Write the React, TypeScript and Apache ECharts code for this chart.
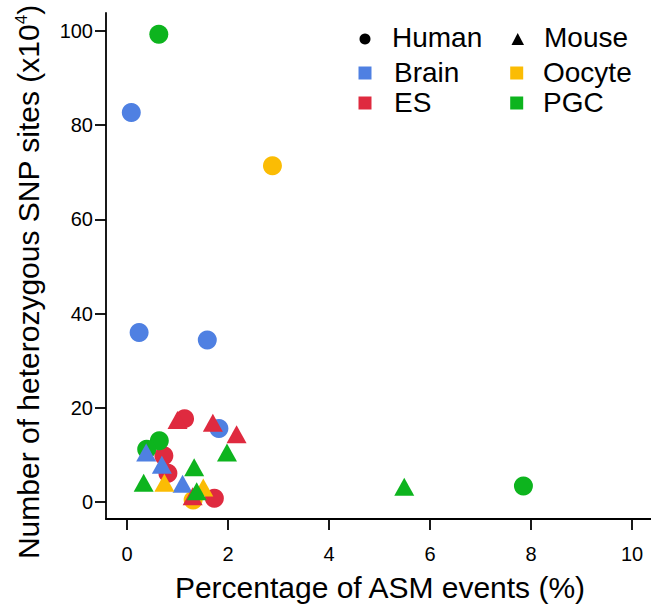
import React, { useEffect, useRef } from "react";
import * as echarts from "echarts";

// [x = % ASM events, y = heterozygous SNP sites (x10^4)]
const humanBrain = [[0.085, 82.7], [0.24, 36.0], [1.59, 34.4], [1.82, 15.6]];
const humanES = [[1.14, 17.7], [0.73, 9.8], [0.81, 6.1], [1.73, 0.8]];
const humanOocyte = [[2.88, 71.4], [1.31, 0.4]];
const humanPGC = [[0.63, 99.3], [0.64, 13.0], [0.39, 11.2], [7.85, 3.4]];
const mouseBrain = [[0.38, 10.5], [0.69, 7.9], [1.10, 3.9]];
const mouseES = [[1.00, 17.4], [1.70, 16.8], [2.17, 14.4], [1.30, 1.2]];
const mouseOocyte = [[0.74, 4.1], [1.51, 3.1]];
const mousePGC = [[1.98, 10.5], [1.33, 7.4], [0.33, 4.1], [1.38, 2.3], [5.49, 3.25]];

const xTicks = [0, 2, 4, 6, 8, 10];
const yTicks = [0, 20, 40, 60, 80, 100];

const COLORS = {
  Brain: "#4F80E2",
  ES: "#DF2A3F",
  Oocyte: "#FBBC04",
  PGC: "#0DB41E",
};

const FONT = "Liberation Sans, Arial, Helvetica, sans-serif";

export default function App() {
  const ref = useRef<HTMLDivElement>(null);
  useEffect(() => {
    if (!ref.current) return;
    const chart = echarts.init(ref.current, null, { renderer: "svg" });
    const circ = (name: string, data: number[][], color: string) => ({
      type: "scatter",
      name,
      data,
      symbol: "circle",
      symbolSize: 19,
      itemStyle: { color, opacity: 1 },
      z: 2,
    });
    const tri = (name: string, data: number[][], color: string) => ({
      type: "scatter",
      name,
      data,
      symbol: "triangle",
      symbolSize: [20, 18],
      itemStyle: { color, opacity: 1 },
      z: 3,
    });
    const legendText = (text: string, x: number, y: number) => ({
      type: "text",
      x,
      y,
      style: {
        text,
        fontSize: 28,
        lineHeight: 28,
        fontFamily: FONT,
        fill: "#000",
        align: "left",
        verticalAlign: "middle",
      },
    });
    const sq = (cx: number, cy: number, color: string) => ({
      type: "rect",
      shape: { x: cx - 6.5, y: cy - 6.5, width: 13, height: 13 },
      style: { fill: color },
    });
    chart.setOption({
      animation: false,
      grid: { left: 106, right: 0, top: 13, bottom: 86 },
      xAxis: {
        type: "value",
        min: -0.4158,
        max: 10.376,
        splitLine: { show: false },
        axisLine: { show: true, onZero: false, lineStyle: { color: "#000", width: 1.8 } },
        axisTick: { show: true, length: 11, customValues: xTicks, lineStyle: { color: "#000", width: 1.8 } },
        axisLabel: {
          customValues: xTicks,
          fontSize: 20,
          fontFamily: FONT,
          color: "#000",
          margin: 25,
        },
      },
      yAxis: {
        type: "value",
        min: -3.609,
        max: 103.82,
        splitLine: { show: false },
        axisLine: { show: true, onZero: false, lineStyle: { color: "#000", width: 1.8 } },
        axisTick: { show: true, length: 11, customValues: yTicks, lineStyle: { color: "#000", width: 1.8 } },
        axisLabel: {
          customValues: yTicks,
          fontSize: 20,
          fontFamily: FONT,
          color: "#000",
          margin: 13,
        },
      },
      series: [
        circ("Human Brain", humanBrain, COLORS.Brain),
        circ("Human ES", humanES, COLORS.ES),
        circ("Human Oocyte", humanOocyte, COLORS.Oocyte),
        circ("Human PGC", humanPGC, COLORS.PGC),
        tri("Mouse Brain", mouseBrain, COLORS.Brain),
        tri("Mouse ES", mouseES, COLORS.ES),
        tri("Mouse Oocyte", mouseOocyte, COLORS.Oocyte),
        tri("Mouse PGC", mousePGC, COLORS.PGC),
      ],
      graphic: [
        {
          type: "text",
          x: 28,
          y: 282,
          rotation: Math.PI / 2,
          style: {
            text: "Number of heterozygous SNP sites (x10{sup|4})",
            fontSize: 30,
            fontFamily: FONT,
            fill: "#000",
            align: "center",
            verticalAlign: "middle",
            rich: {
              sup: { fontSize: 17, fontFamily: FONT, fill: "#000", padding: [0, 0, 14, 0] },
            },
          },
        },
        {
          type: "text",
          x: 380,
          y: 587,
          style: {
            text: "Percentage of ASM events (%)",
            fontSize: 30,
            fontFamily: FONT,
            fill: "#000",
            align: "center",
            verticalAlign: "middle",
          },
        },
        { type: "circle", shape: { cx: 365, cy: 39, r: 5.5 }, style: { fill: "#000" } },
        { type: "polygon", shape: { points: [[511.5, 45], [524, 45], [517.7, 33]] }, style: { fill: "#000" } },
        sq(365, 73, COLORS.Brain),
        sq(365, 103, COLORS.ES),
        sq(516.7, 73, COLORS.Oocyte),
        sq(516.7, 103, COLORS.PGC),
        legendText("Human", 392, 37),
        legendText("Mouse", 544, 37),
        legendText("Brain", 394, 72),
        legendText("ES", 394, 102.5),
        legendText("Oocyte", 543, 72),
        legendText("PGC", 543, 102.5),
      ],
    });
    return () => chart.dispose();
  }, []);
  return (
    <div
      ref={ref}
      style={{ position: "fixed", left: 0, top: 0, width: 651, height: 605, background: "#fff" }}
    />
  );
}
